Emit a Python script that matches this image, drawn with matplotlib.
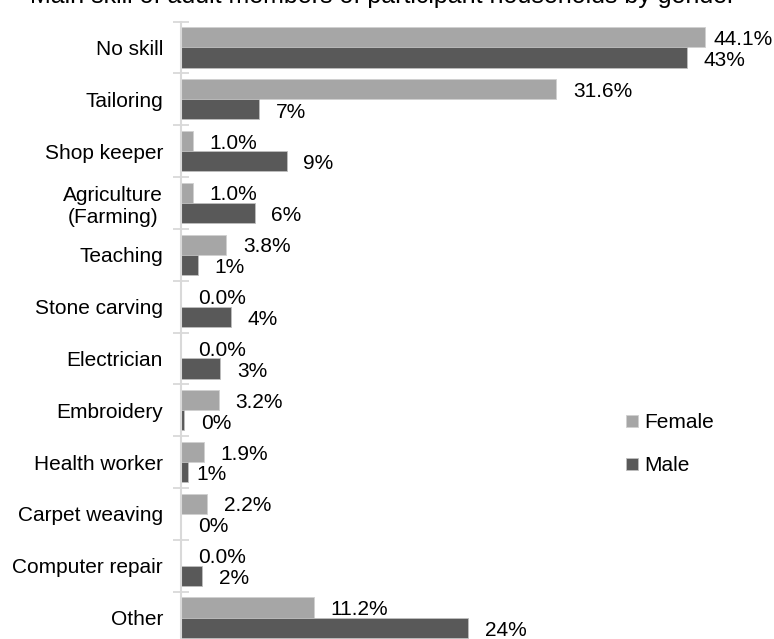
import numpy as np
import matplotlib.pyplot as plt

plt.rcParams['font.family'] = ['Liberation Sans', 'DejaVu Sans']

categories = ["No skill", "Tailoring", "Shop keeper", "Agriculture\n(Farming)",
              "Teaching", "Stone carving", "Electrician", "Embroidery",
              "Health worker", "Carpet weaving", "Computer repair", "Other"]
female = [44.1, 31.6, 1.0, 1.0, 3.8, 0.0, 0.0, 3.2, 1.9, 2.2, 0.0, 11.2]
male = [42.6, 6.6, 8.9, 6.2, 1.4, 4.2, 3.3, 0.25, 0.6, 0.0, 1.8, 24.2]
male_labels = ["43%", "7%", "9%", "6%", "1%", "4%", "3%", "0%", "1%", "0%", "2%", "24%"]
female_labels = [f"{v:.1f}%" for v in female]

FEMALE_C = "#a6a6a6"
MALE_C = "#595959"
FS = 15

fig = plt.figure(figsize=(7.74, 6.39), dpi=100)
ax = fig.add_axes([181 / 774, -4.5 / 639, 570 / 774, 622 / 639])

y = np.arange(len(categories))
h = 0.39
bf = ax.barh(y - h / 2, female, height=h, color=FEMALE_C, edgecolor="#d0d0d0",
             linewidth=0.6, label="Female")
bm = ax.barh(y + h / 2, male, height=h, color=MALE_C, edgecolor="#bfbfbf",
             linewidth=0.6, label="Male")

# excel-style labels, a few were nudged by hand in the original
f_dx = {0: 6}
m_dx = {8: 6}
for i, (yi, v, t) in enumerate(zip(y, female, female_labels)):
    ax.annotate(t, (v, yi - h / 2), xytext=(f_dx.get(i, 12), -1.5),
                textcoords="offset points", ha="left", va="center", fontsize=FS)
for i, (yi, v, t) in enumerate(zip(y, male, male_labels)):
    ax.annotate(t, (v, yi + h / 2), xytext=(m_dx.get(i, 12), -2),
                textcoords="offset points", ha="left", va="center", fontsize=FS)

ax.set_ylim(len(categories) - 0.5, -0.5)
ax.set_xlim(0, 48)
ax.set_yticks(y)
ax.set_yticklabels(categories, fontsize=FS, multialignment="center")
ax.set_yticks(np.arange(-0.5, len(categories), 1), minor=True)
ax.tick_params(axis="y", which="major", length=0, pad=13)
ax.tick_params(axis="y", which="minor", length=11, direction="inout",
               color="#d9d9d9", width=1.3)
ax.set_xticks([])
for s in ["top", "right", "bottom"]:
    ax.spines[s].set_visible(False)
ax.spines["left"].set_color("#d9d9d9")
ax.spines["left"].set_linewidth(1.5)

ax.legend(handles=[bf, bm], loc="upper left", bbox_to_anchor=(0.748, 0.40),
          frameon=False, fontsize=FS, handlelength=0.55, handleheight=0.55,
          handletextpad=0.3, labelspacing=1.15)

fig.text(0.495, 1 - 3 / 639, "Main skill of adult members of participant households by gender",
         ha="center", va="baseline", fontsize=18)

fig.savefig("out.png", dpi=100)
